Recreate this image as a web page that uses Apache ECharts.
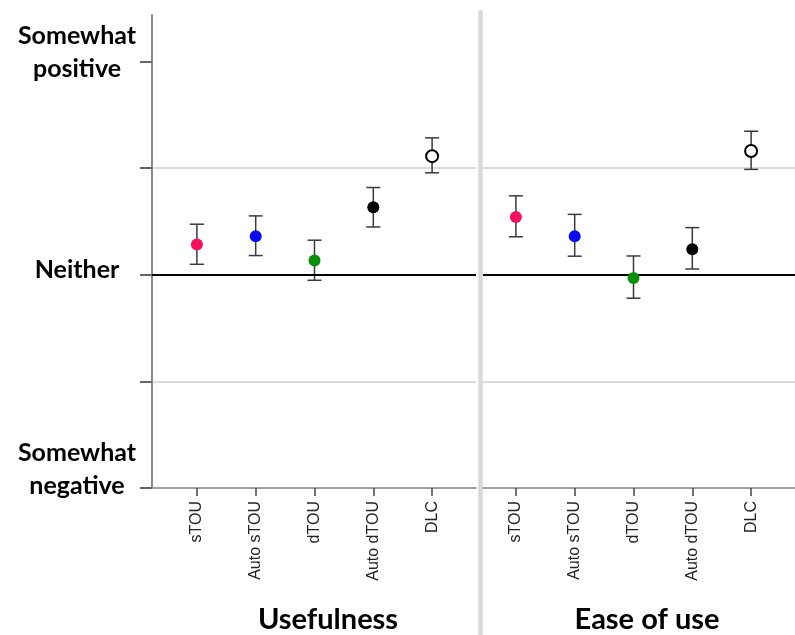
<!DOCTYPE html>
<html><head><meta charset="utf-8">
<script src="https://cdn.jsdelivr.net/npm/echarts@6/dist/echarts.min.js"></script>
<style>html,body{margin:0;padding:0;background:#fff}#c{width:795px;height:635px}</style>
</head><body><div id="c"></div>
<script>
const categories = ['sTOU', 'Auto sTOU', 'dTOU', 'Auto dTOU', 'DLC'];
const panelTitles = ['Usefulness', 'Ease of use'];
const usefulnessMean = [0.142, 0.181, 0.067, 0.317, 0.556];
const usefulnessLow  = [0.049, 0.090, -0.026, 0.224, 0.478];
const usefulnessHigh = [0.237, 0.276, 0.162, 0.409, 0.642];
const easeMean = [0.271, 0.181, -0.015, 0.120, 0.580];
const easeLow  = [0.178, 0.087, -0.110, 0.027, 0.494];
const easeHigh = [0.370, 0.283, 0.088, 0.221, 0.673];
const yTickValues = [-1, -0.5, 0, 0.5, 1];
const yLabelValues = [-1, 0, 1];
const yLabelText = {'1': ['Somewhat', 'positive'], '0': ['Neither'], '-1': ['Somewhat', 'negative']};
const pointColors = ['#f2105f', '#0a0af0', '#0b8f0b', '#000000', '#ffffff'];

const Y_MIN = -1, Y_MAX = 1.218;
const chart = echarts.init(document.getElementById('c'), null, {renderer: 'canvas'});

function bgX() {
  return {type: 'value', min: 0, max: 1, axisLine: {show: true, onZero: false, lineStyle: {color: '#8a8a8a', width: 1.5}},
    axisTick: {show: false}, axisLabel: {show: false}, splitLine: {show: false}};
}
function dataX(gi) {
  return {type: 'category', gridIndex: gi, data: categories, boundaryGap: true, position: 'bottom',
    axisLine: {show: false, onZero: false},
    axisTick: {show: true, alignWithLabel: true, length: 8, lineStyle: {color: '#444', width: 1.5}},
    axisLabel: {rotate: 90, margin: 13, fontFamily: 'Liberation Sans', fontSize: 16, color: '#222', interval: 0},
    splitLine: {show: false}};
}
function hiddenY(gi) {
  return {type: 'value', gridIndex: gi, min: Y_MIN, max: Y_MAX, show: false, splitLine: {show: false}};
}
const extraLine = {'1': 19, '0': 9, '-1': 38};
function errSeries(xi, low, high) {
  return {type: 'custom', xAxisIndex: xi, yAxisIndex: xi, z: 3,
    data: categories.map((c, i) => [i, low[i], high[i]]),
    encode: {x: 0, y: [1, 2]},
    renderItem: function (params, api) {
      const x = api.value(0);
      const pLo = api.coord([x, api.value(1)]);
      const pHi = api.coord([x, api.value(2)]);
      const hw = 7;
      const style = {stroke: '#3a3a3a', lineWidth: 1.5};
      return {type: 'group', children: [
        {type: 'line', shape: {x1: pLo[0], y1: pLo[1], x2: pHi[0], y2: pHi[1]}, style: style},
        {type: 'line', shape: {x1: pLo[0] - hw, y1: pLo[1], x2: pLo[0] + hw, y2: pLo[1]}, style: style},
        {type: 'line', shape: {x1: pHi[0] - hw, y1: pHi[1], x2: pHi[0] + hw, y2: pHi[1]}, style: style}
      ]};
    }};
}
function pointSeries(xi, mean) {
  return {type: 'scatter', xAxisIndex: xi, yAxisIndex: xi, z: 5, symbolSize: 12,
    data: categories.map((c, i) => ({value: [i, mean[i]], itemStyle: {
      color: pointColors[i], borderColor: i === 4 ? '#000' : pointColors[i], borderWidth: i === 4 ? 2 : 0, opacity: 1}}))};
}
function zeroSeries(xi) {
  return {type: 'line', xAxisIndex: xi, yAxisIndex: xi, data: [], z: 4,
    markLine: {silent: true, symbol: 'none', label: {show: false},
      lineStyle: {color: '#000', width: 2, type: 'solid'}, data: [{yAxis: 0}]}};
}

const titleStyle = {fontFamily: 'Lato', fontWeight: 'bold', fontSize: 29, color: '#000'};
const option = {
  animation: false,
  backgroundColor: '#fff',
  title: [
    {text: panelTitles[0], left: 323, top: 600, textAlign: 'center', textStyle: titleStyle},
    {text: panelTitles[1], left: 642, top: 600, textAlign: 'center', textStyle: titleStyle}
  ],
  grid: [
    {left: 152, top: 15, width: 324, bottom: 147},
    {left: 167.5, top: 15, width: 294, bottom: 147},
    {left: 483, top: 15, right: 0, bottom: 147},
    {left: 486.5, top: 15, width: 294, bottom: 147},
    {left: 480.5, top: 12, width: 1, bottom: 0}
  ],
  xAxis: [
    Object.assign(bgX(), {gridIndex: 0}),
    dataX(1),
    Object.assign(bgX(), {gridIndex: 2}),
    dataX(3),
    {type: 'value', gridIndex: 4, show: false, min: 0, max: 1}
  ],
  yAxis: [
    {type: 'value', gridIndex: 0, min: Y_MIN, max: Y_MAX,
      axisLine: {show: true, lineStyle: {color: '#8a8a8a', width: 2}},
      axisTick: {show: true, customValues: yTickValues, length: 12, lineStyle: {color: '#666', width: 2}},
      splitLine: {show: true, showMaxLine: false, lineStyle: {color: '#dcdcdc', width: 2}},
      axisLabel: {show: true, customValues: yLabelValues, margin: 75, align: 'center', verticalAlign: 'middle',
        formatter: function (v) {
          const key = String(Math.round(v));
          const lines = yLabelText[key] || [];
          return lines.map(t => '{a|' + t + '}').join('\n') + '\n{s' + (key === '-1' ? 'n' : key) + '| }';
        },
        rich: {
          a: {fontFamily: 'Lato', fontWeight: 'bold', fontSize: 25, lineHeight: 33, color: '#000', align: 'center'},
          s1: {fontSize: 1, lineHeight: extraLine['1']},
          s0: {fontSize: 1, lineHeight: extraLine['0']},
          sn: {fontSize: 1, lineHeight: extraLine['-1']}
        }}},
    hiddenY(1),
    {type: 'value', gridIndex: 2, min: Y_MIN, max: Y_MAX,
      axisLine: {show: false}, axisTick: {show: false, customValues: yTickValues}, axisLabel: {show: false},
      splitLine: {show: true, showMaxLine: false, lineStyle: {color: '#dcdcdc', width: 2}}},
    hiddenY(3),
    {type: 'value', gridIndex: 4, min: 0, max: 1, axisLine: {show: true, lineStyle: {color: '#d9d9d9', width: 4.5}},
      axisTick: {show: false}, axisLabel: {show: false}, splitLine: {show: false}}
  ],
  series: [
    zeroSeries(0),
    zeroSeries(2),
    errSeries(1, usefulnessLow, usefulnessHigh),
    pointSeries(1, usefulnessMean),
    errSeries(3, easeLow, easeHigh),
    pointSeries(3, easeMean)
  ]
};
chart.setOption(option);
</script>
</body></html>
